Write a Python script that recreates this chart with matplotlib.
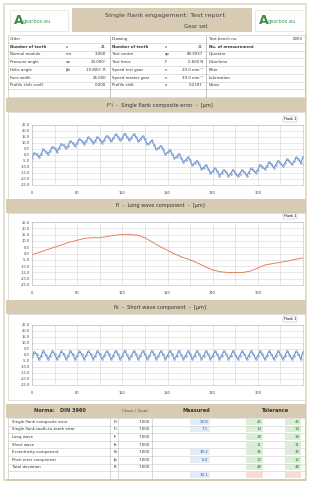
import numpy as np
import matplotlib
matplotlib.use("Agg")
import matplotlib.pyplot as plt
from matplotlib.patches import Rectangle

# ---------------- data ----------------
x_ticks = [0, 60, 120, 180, 240, 300]
y_ticks = [-25, -20, -15, -10, -5, 0, 5, 10, 15, 20, 25]

composite = [-2.5, 1.6, 0.7, -1.8, 0.6, 4.7, 2.9, 0.8, 3.2, 6.9, 5.7, 2.9, 5.8, 9.1, 8.0, 5.5,
             7.9, 11.9, 10.0, 7.4, 10.0, 13.4, 12.0, 9.2, 11.8, 14.9, 12.9, 10.1, 11.9, 15.2, 12.9,
             10.2, 12.6, 15.9, 14.5, 11.3, 14.0, 17.2, 15.3, 12.4, 14.4, 17.8, 15.3, 12.4, 14.4, 17.3,
             15.2, 11.6, 13.3, 15.7, 13.0, 9.0, 9.8, 12.1, 8.7, 4.7, 5.7, 7.7, 4.9, 0.7, 2.1, 4.2,
             1.2, -2.7, -1.6, 1.0, -2.2, -5.8, -4.3, -1.9, -4.4, -8.5, -6.9, -4.7, -7.6, -11.5, -10.5,
             -8.1, -11.3, -15.0, -13.5, -11.0, -13.3, -17.1, -15.0, -12.2, -14.5, -17.5, -15.6, -12.2,
             -14.7, -17.6, -15.5, -12.5, -14.2, -17.2, -14.6, -11.2, -12.6, -14.8, -12.1, -8.1, -9.6,
             -11.9, -9.3, -6.0, -7.6, -10.6, -8.0, -4.7, -6.5, -9.2, -7.0, -3.3, -5.4, -7.9, -5.3,
             -1.9, -3.4, -6.4, -1.5]

long_wave = [-1, 1, 3, 5, 7, 9, 10.5, 12, 12.5, 12.5, 13.5, 14.5, 15, 15, 14.5, 12.5, 9, 5.5,
             2.5, -0.5, -3, -5, -7.5, -10.5, -13, -14.5, -15, -15, -15, -14, -11.5, -9, -8, -7,
             -6, -4.5, -3.5]

short_wave = [-2.0, 2.6, 0.7, -3.4, -1.0, 3.5, 0.4, -3.1, -0.8, 3.3, 0.9, -3.5, -0.5, 3.0, 0.8,
              -3.3, -0.9, 3.6, 0.5, -3.4, -0.7, 3.1, 0.8, -3.5, -0.4, 3.4, 0.7, -3.1, -0.8, 3.5,
              0.5, -3.4, -0.7, 3.3, 0.9, -3.6, -0.5, 3.4, 0.7, -3.3, -0.8, 3.6, 0.4, -3.4, -0.7,
              3.3, 0.8, -3.5, -0.5, 3.4, 0.7, -3.3, -0.8, 3.5, 0.5, -3.4, -0.7, 3.3, 0.8, -3.5,
              -0.5, 3.4, 0.7, -3.3, -0.8, 3.6, 0.4, -3.4, -0.7, 3.3, 0.8, -3.5, -0.5, 3.4, 0.7,
              -3.3, -0.8, 3.5, 0.5, -3.4, -0.7, 3.3, 0.8, -3.5, -0.5, 3.4, 0.7, -3.3, -0.8, 3.6,
              0.4, -3.4, -0.7, 3.3, 0.8, -3.5, -0.5, 3.4, 0.7, -3.3, -0.8, 3.5, 0.5, -3.4, -0.7,
              3.3, 0.8, -3.5, -0.5, 3.4, 0.7, -3.3, -0.8, 3.6, 0.4, -3.4, -0.7, 3.3, 0.8, -3.5, 2.6]

info_left = [("Order", "", ""), ("Number of teeth", "z", "41"), ("Normal module", "mn", "3.000"),
             ("Pressure angle", "αn", "20.000°"), ("Helix angle", "βo", "19.800° R"),
             ("Face width", "", "26.000"), ("Profile shift coeff.", "", "0.000"), ("", "", "")]
info_mid = [("Drawing", "", ""), ("Number of teeth", "z", "21"), ("Test centre", "ap", "89.9937"),
            ("Test force", "F", "0.600 N"), ("Speed test gear", "n", "20.0 min⁻¹"),
            ("Speed master gear", "n", "39.0 min⁻¹"), ("Profile shift", "x", "0.2187"), ("", "", "")]
info_right = [("Test bench no.", "0000"), ("No. of measurement", ""), ("Operator", ""),
              ("Date/time", ""), ("Filter", ""), ("Lubrication", ""), ("Notes", ""), ("", "")]

res_labels = ["Single flank composite error", "Single flank tooth-to-tooth error", "Long wave",
              "Short wave", "Eccentricity component", "Pitch error component", "Total deviation", ""]
res_symbols = ["F'i", "f'i", "fl", "fk", "Fe", "fp", "Ft", ""]
res_class = ["7.000", "7.000", "7.000", "7.000", "7.000", "7.000", "7.000", ""]
res_measured = ["33.8", "7.1", "", "", "30.2", "6.4", "", "34.1"]
res_tol1 = ["45", "14", "38", "11", "36", "12", "48", ""]
res_tol2 = ["45", "14", "38", "11", "36", "12", "48", ""]

W, H = 310, 483
fig = plt.figure(figsize=(W / 100, H / 100), dpi=100)
fig.patch.set_facecolor("white")
TAN = "#d7cbb3"
GRID = "#d4d4d4"
FS = 2.8


def R(x0, y0, x1, y1, **kw):
    kw.setdefault("zorder", -5)
    fig.patches.append(Rectangle((x0 / W, 1 - y1 / H), (x1 - x0) / W, (y1 - y0) / H,
                                 transform=fig.transFigure, **kw))


def T(x, y, s, **kw):
    kw.setdefault("fontsize", FS)
    kw.setdefault("va", "center")
    kw.setdefault("color", "#333333")
    fig.text(x / W, 1 - y / H, s, **kw)


def HL(x0, x1, y, color="#bbbbbb", lw=0.4):
    fig.add_artist(plt.Line2D([x0 / W, x1 / W], [1 - y / H, 1 - y / H], color=color, lw=lw,
                              transform=fig.transFigure))


def VL(x, y0, y1, color="#bbbbbb", lw=0.4):
    fig.add_artist(plt.Line2D([x / W, x / W], [1 - y0 / H, 1 - y1 / H], color=color, lw=lw,
                              transform=fig.transFigure))


# page frame
R(4, 4, 306, 480, fc="none", ec="#e2d9c6", lw=1.2)

# header
R(72, 8, 252, 32, fc=TAN)
T(165, 15, "Single flank engagement: Test report", ha="center", fontsize=4.6, color="#444")
T(196, 26, "Gear set", ha="center", fontsize=4.0, color="#444")
for x0, x1 in [(10, 68), (255, 305)]:
    R(x0, 10, x1, 31, fc="white", ec="#e0e0e0", lw=0.5)
    T(x0 + 4, 21, "A", fontsize=9, color="#3c8c46", fontweight="bold")
    T(x0 + 13, 22, "gearbox.eu", fontsize=3.6, color="#3c9c50")

# info table
top, rh = 35, 7.75
for i in range(9):
    HL(8, 305, top + i * rh, color="#c8c8c8")
VL(8, top, top + 8 * rh)
VL(305, top, top + 8 * rh)
VL(110, top, top + 8 * rh, color="#999999")
VL(206, top, top + 8 * rh, color="#999999")
for i in range(8):
    yc = top + (i + 0.5) * rh
    l, s, v = info_left[i]
    T(10, yc, l, fontweight="bold" if i == 1 else "normal")
    T(66, yc, s)
    T(106, yc, v, ha="right")
    l, s, v = info_mid[i]
    T(112, yc, l, fontweight="bold" if i == 1 else "normal")
    T(165, yc, s)
    T(203, yc, v, ha="right")
    l, v = info_right[i]
    T(209, yc, l, fontweight="bold" if i == 1 else "normal")
    T(303, yc, v, ha="right")

# chart sections
sections = [
    (98, 112, 199, "F'i  -  Single flank composite error  -  [µm]", composite, "#6a8fcc", True, (125, 185)),
    (199, 213, 300, "fl  -  Long wave component  -  [µm]", long_wave, "#e0704c", False, (222, 285)),
    (300, 314, 400, "fk  -  Short wave component  -  [µm]", short_wave, "#6a8fcc", True, (325, 385)),
]
for (b0, b1, p1, title, vals, col, mk, (a0, a1)) in sections:
    R(6, b0, 306, b1, fc=TAN)
    T(160, (b0 + b1) / 2, title, ha="center", fontsize=3.6, color="#333")
    R(8, b1, 305, p1, fc="white", ec="#d0d0d0", lw=0.5)
    ax = fig.add_axes([32 / W, 1 - a1 / H, (303 - 32) / W, (a1 - a0) / H])
    ax.set_zorder(2)
    xs = np.linspace(0, 360, len(vals))
    ax.plot(xs, vals, color=col, lw=0.8 if mk else 0.6, marker="o" if mk else None, ms=1.3,
            mfc="#a8bfe4", mec=col, mew=0.3, label="Flank 1")
    ax.set_xlim(0, 360)
    ax.set_ylim(-25, 25)
    ax.set_xticks(np.arange(0, 361, 30), minor=False)
    ax.set_xticklabels([str(t) if t in x_ticks else "" for t in np.arange(0, 361, 30)])
    ax.set_yticks(y_ticks)
    ax.set_yticklabels([f"{t:.1f}" for t in y_ticks])
    ax.grid(True, color=GRID, lw=0.4)
    ax.tick_params(labelsize=2.6, length=0, pad=1.5, colors="#444")
    ax.tick_params(axis="x", pad=4)
    for sp in ax.spines.values():
        sp.set_color("#bbbbbb")
        sp.set_linewidth(0.4)
    leg = ax.legend(loc="lower right", bbox_to_anchor=(0.985, 1.02), fontsize=2.4,
                    frameon=True, handlelength=0, handletextpad=0, borderpad=0.3, markerscale=0)
    leg.get_frame().set_linewidth(0.3)
    leg.get_frame().set_edgecolor("#999")

# result table
R(6, 404, 306, 418, fc=TAN)
T(60, 411, "Norma:   DIN 3960", ha="center", fontsize=3.6, color="#333", fontweight="bold")
T(135, 411, "Class / Qual.", ha="center", fontsize=3.2, color="#555")
T(196, 411, "Measured", ha="center", fontsize=3.6, color="#333", fontweight="bold")
T(276, 411, "Tolerance", ha="center", fontsize=3.6, color="#333", fontweight="bold")
rt, rr = 418, 7.6
for i in range(8):
    yc = rt + (i + 0.5) * rr
    if res_tol1[i]:
        R(246, rt + i * rr + 0.8, 263, rt + (i + 1) * rr - 0.8, fc="#d9f0d6", ec="none")
        R(285, rt + i * rr + 0.8, 301, rt + (i + 1) * rr - 0.8, fc="#d9f0d6", ec="none")
    else:
        R(246, rt + i * rr + 0.8, 263, rt + (i + 1) * rr - 0.8, fc="#f7dccf", ec="none")
        R(285, rt + i * rr + 0.8, 301, rt + (i + 1) * rr - 0.8, fc="#f7dccf", ec="none")
    if res_measured[i]:
        R(190, rt + i * rr + 0.8, 210, rt + (i + 1) * rr - 0.8, fc="#e3ecf8", ec="none")
    T(12, yc, res_labels[i])
    T(114, yc, res_symbols[i])
    T(150, yc, res_class[i], ha="right")
    T(208, yc, res_measured[i], ha="right", color="#3060b0")
    T(262, yc, res_tol1[i], ha="right", color="#2f7a36")
    T(300, yc, res_tol2[i], ha="right", color="#2f7a36")
for i in range(9):
    HL(8, 305, rt + i * rr, color="#cccccc")
for x in [8, 110, 118, 152, 305]:
    VL(x, rt, rt + 8 * rr, color="#bbbbbb")
R(6, 479, 306, 481, fc=TAN)

fig.savefig("out.png", dpi=100)
